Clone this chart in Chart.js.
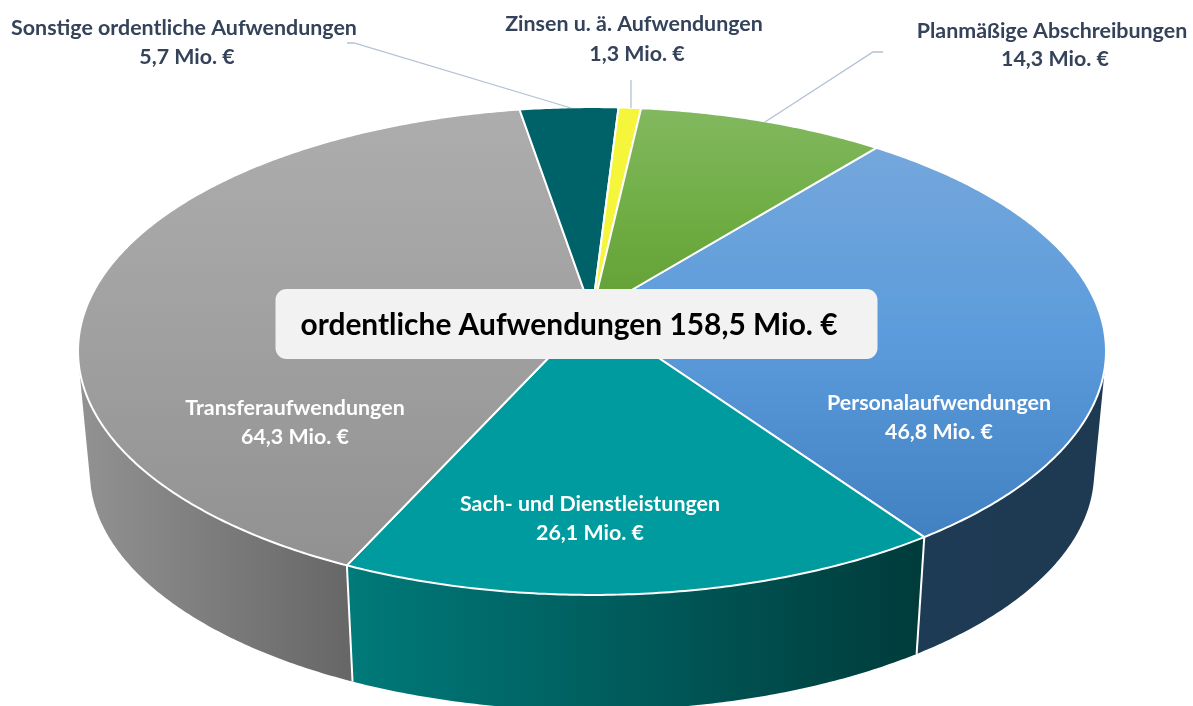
<!DOCTYPE html>
<html lang="de">
<head>
<meta charset="utf-8">
<title>ordentliche Aufwendungen</title>
<script src="https://cdn.jsdelivr.net/npm/chart.js@4"></script>
<style>html,body{margin:0;padding:0;background:#fff;overflow:hidden}canvas{display:block}</style>
</head>
<body>
<canvas id="c" width="1193" height="706"></canvas>
<script>
const categories = ["Personalaufwendungen","Sach- und Dienstleistungen","Transferaufwendungen","Sonstige ordentliche Aufwendungen","Zinsen u. ä. Aufwendungen","Planmäßige Abschreibungen"];
const valuesMio = [46.8,26.1,64.3,5.7,1.3,14.3];
const totalLabel = "ordentliche Aufwendungen 158,5 Mio. €";
const baseColors = ["#5b9bd5","#009b9e","#a5a5a5","#006269","#f5f53c","#70ad47"];

const faceGrad = [["#74a7dc","#5b9bdb","#4181c1"],["#009b9e","#009b9e","#009b9e"],["#adadad","#a0a0a0","#919191"],["#006269","#006269","#006269"],["#f5f53c","#f5f53c","#f5f53c"],["#82b85f","#70ae45","#62a035"]];
const wallGrad = [["#1e3b55","#1e3a52"],["#007a7a","#003b3b"],["#929292","#676767"],["#004048","#004048"],["#a0a020","#a0a020"],["#3c6e20","#3c6e20"]];
const labelPos = [[939,410,939,439,"#fff"],[590,511,590,540,"#fff"],[295,415,295,444,"#fff"],[184,35,187,64,"#34425a"],[634,31,637,61,"#34425a"],[1052,38,1055,66,"#34425a"]];
const leaders = [[[347,43],[354,43],[571,108]],[[631,80],[631,108]],[[883,52],[873,52],[765,122]]];

const P = {cx:592, cy:313, a:507.7, b:238, k:0.1558};
const B = {cx:592, cy:435, a:496, b:232.5, k:0.1558};
function proj(g, t){
  const u = Math.cos(t), v = Math.sin(t), w = 1 - g.k * v;
  return [g.cx + g.a * u / w, g.cy + g.b * v / w];
}
const STEP = Math.PI / 360;
function samples(s, e){
  const out = [], n = Math.max(2, Math.ceil((e - s) / STEP));
  for (let i = 0; i <= n; i++) out.push(s + (e - s) * i / n);
  return out;
}
function addQuad(ctx, q){
  let area = 0;
  q.forEach((p, i) => { const r = q[(i + 1) % 4]; area += p[0] * r[1] - r[0] * p[1]; });
  const o = area < 0 ? q.slice().reverse() : q;
  ctx.moveTo(o[0][0], o[0][1]);
  for (let i = 1; i < 4; i++) ctx.lineTo(o[i][0], o[i][1]);
  ctx.closePath();
}

const pie3d = {
  id: 'pie3d',
  beforeDatasetDraw(chart, args){
    const ctx = chart.ctx, arcs = args.meta.data, D = Math.PI / 180;
    ctx.save();
    // walls
    arcs.forEach((arc, i) => {
      const turn = 2 * Math.PI;
      for (const off of [0, turn, -turn]) {
        const s = Math.max(arc.startAngle + off, -12 * D), e = Math.min(arc.endAngle + off, 192 * D);
        if (e <= s) continue;
        const ts = samples(s, e);
        const p0 = proj(P, s), p1 = proj(P, e);
        const g = ctx.createLinearGradient(Math.min(p0[0], p1[0], i === 2 ? 79 : 1e4), 0, Math.max(p0[0], p1[0]), 0);
        g.addColorStop(0, wallGrad[i][0]); g.addColorStop(1, wallGrad[i][1]);
        ctx.fillStyle = g;
        ctx.beginPath();
        for (let j = 0; j < ts.length - 1; j++) {
          addQuad(ctx, [proj(P, ts[j]), proj(P, ts[j + 1]), proj(B, ts[j + 1]), proj(B, ts[j])]);
        }
        ctx.fill();
      }
    });
    // separators on the wall
    ctx.strokeStyle = '#fff'; ctx.lineWidth = 2;
    arcs.forEach(arc => {
      if (Math.sin(arc.startAngle) > 0) {
        const a = proj(P, arc.startAngle), b = proj(B, arc.startAngle);
        ctx.beginPath(); ctx.moveTo(a[0], a[1]); ctx.lineTo(b[0], b[1]); ctx.stroke();
      }
    });
    // top faces
    ctx.lineJoin = 'round';
    arcs.forEach((arc, i) => {
      const ts = samples(arc.startAngle, arc.endAngle);
      let top = 1e9, bot = -1e9;
      ts.forEach(t => { const q = proj(P, t); top = Math.min(top, q[1]); bot = Math.max(bot, q[1]); });
      bot = Math.max(bot, P.cy); 
      const g = ctx.createLinearGradient(0, top, 0, bot);
      g.addColorStop(0, faceGrad[i][0]); g.addColorStop(0.5, faceGrad[i][1]); g.addColorStop(1, faceGrad[i][2]);
      ctx.beginPath();
      ctx.moveTo(P.cx, P.cy);
      ts.forEach(t => { const q = proj(P, t); ctx.lineTo(q[0], q[1]); });
      ctx.closePath();
      ctx.fillStyle = g; ctx.fill();
      ctx.strokeStyle = '#fff'; ctx.lineWidth = 2; ctx.stroke();
    });
    ctx.restore();
    return false;
  },
  afterDraw(chart){
    const ctx = chart.ctx;
    ctx.save();
    ctx.strokeStyle = '#b3c1d5'; ctx.lineWidth = 1.3;
    leaders.forEach(l => { ctx.beginPath(); l.forEach((p, i) => i ? ctx.lineTo(p[0], p[1]) : ctx.moveTo(p[0], p[1])); ctx.stroke(); });
    ctx.fillStyle = '#f2f2f2';
    ctx.beginPath(); ctx.roundRect(275.5, 289, 602, 70, 11); ctx.fill();
    ctx.textBaseline = 'alphabetic';
    ctx.textAlign = 'center';
    ctx.fillStyle = '#000';
    ctx.font = 'bold 30px Lato';
    ctx.fillText(totalLabel, 569, 335, 537);
    ctx.font = 'bold 21.4px Lato';
    categories.forEach((c, i) => {
      const l = labelPos[i];
      ctx.fillStyle = l[4];
      ctx.fillText(c, l[0], l[1]);
      ctx.fillText(valuesMio[i].toFixed(1).replace('.', ',') + ' Mio. €', l[2], l[3]);
    });
    ctx.restore();
  }
};

new Chart(document.getElementById('c'), {
  type: 'pie',
  data: { labels: categories, datasets: [{ data: valuesMio, backgroundColor: baseColors, borderColor: '#fff', borderWidth: 2 }] },
  options: {
    responsive: false, animation: false, rotation: 38.9,
    plugins: { legend: { display: false }, tooltip: { enabled: false } }
  },
  plugins: [pie3d]
});
</script>
</body>
</html>
